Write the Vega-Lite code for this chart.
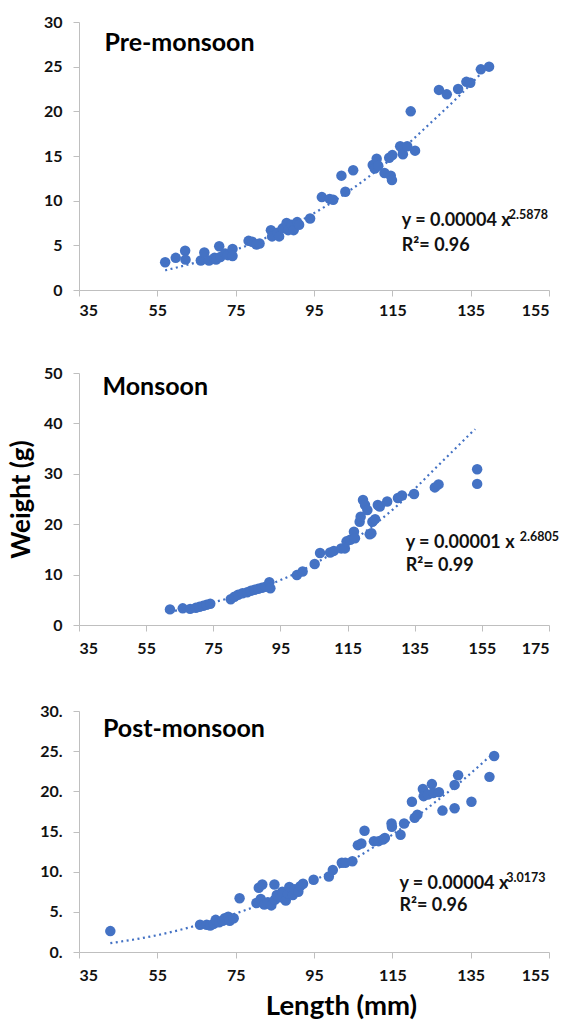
{
  "$schema": "https://vega.github.io/schema/vega-lite/v6.json",
  "padding": {"left": 8, "top": 14, "right": 5, "bottom": 0},
  "spacing": 47,
  "config": {
    "view": {"stroke": null},
    "font": "Lato",
    "axis": {
      "grid": false,
      "domainColor": "#BFBFBF",
      "tickColor": "#BFBFBF",
      "tickSize": 6,
      "labelFont": "Lato",
      "labelFontWeight": "bold",
      "labelFontSize": 16,
      "labelColor": "#111111",
      "labelPadding": 6,
      "titleFont": "Lato",
      "titleFontWeight": "bold",
      "titleFontSize": 26,
      "titleColor": "#000000"
    },
    "axisY": {"labelPadding": 11}
  },
  "datasets": {
    "pre": [
      {"length": 57, "weight": 3.1}, {"length": 59.7, "weight": 3.6}, {"length": 62.1, "weight": 4.4}, {"length": 62.2, "weight": 3.4},
      {"length": 66.1, "weight": 3.3}, {"length": 67, "weight": 4.2}, {"length": 68.2, "weight": 3.3}, {"length": 69.6, "weight": 3.6},
      {"length": 70, "weight": 3.4}, {"length": 70.8, "weight": 4.9}, {"length": 71.1, "weight": 3.7}, {"length": 72.3, "weight": 4.1},
      {"length": 73, "weight": 3.9}, {"length": 74.2, "weight": 4.6}, {"length": 74.2, "weight": 3.8}, {"length": 78.3, "weight": 5.5},
      {"length": 79.2, "weight": 5.4}, {"length": 80.3, "weight": 5.1}, {"length": 81.1, "weight": 5.2}, {"length": 84, "weight": 6.7},
      {"length": 84.3, "weight": 6.0}, {"length": 85.7, "weight": 6.4}, {"length": 86.1, "weight": 6.0}, {"length": 87, "weight": 6.9},
      {"length": 88, "weight": 7.5}, {"length": 88.4, "weight": 6.7}, {"length": 89.3, "weight": 7.3}, {"length": 89.8, "weight": 6.7},
      {"length": 90.7, "weight": 7.6}, {"length": 91.2, "weight": 7.3}, {"length": 94, "weight": 8.0}, {"length": 97, "weight": 10.4},
      {"length": 99, "weight": 10.2}, {"length": 99.9, "weight": 10.1}, {"length": 102, "weight": 12.8}, {"length": 103, "weight": 11.0},
      {"length": 105, "weight": 13.4}, {"length": 110, "weight": 14.0}, {"length": 110.5, "weight": 13.6}, {"length": 111, "weight": 14.7},
      {"length": 111.4, "weight": 13.9}, {"length": 113, "weight": 13.1}, {"length": 114.6, "weight": 12.8}, {"length": 114.9, "weight": 12.3},
      {"length": 114.2, "weight": 14.8}, {"length": 115, "weight": 15.1}, {"length": 117, "weight": 16.1}, {"length": 117.7, "weight": 15.2},
      {"length": 118.8, "weight": 16.1}, {"length": 119.7, "weight": 20.0}, {"length": 120.8, "weight": 15.6}, {"length": 126.9, "weight": 22.4},
      {"length": 128.9, "weight": 21.9}, {"length": 131.8, "weight": 22.5}, {"length": 133.9, "weight": 23.3}, {"length": 134.9, "weight": 23.2},
      {"length": 137.6, "weight": 24.7}, {"length": 139.7, "weight": 25.0}
    ],
    "pre_trend": [
      {"length": 57, "weight": 2.2}, {"length": 65, "weight": 3.1}, {"length": 75, "weight": 4.5}, {"length": 85, "weight": 6.3},
      {"length": 95, "weight": 8.6}, {"length": 105, "weight": 11.4}, {"length": 115, "weight": 14.8}, {"length": 125, "weight": 18.8},
      {"length": 132, "weight": 21.7}, {"length": 138, "weight": 24.4}
    ],
    "mon": [
      {"length": 62.1, "weight": 3.1}, {"length": 65.9, "weight": 3.3}, {"length": 68.1, "weight": 3.2}, {"length": 69.8, "weight": 3.4},
      {"length": 70.9, "weight": 3.6}, {"length": 72, "weight": 3.8}, {"length": 73, "weight": 4.0}, {"length": 74.1, "weight": 4.2},
      {"length": 80.2, "weight": 5.1}, {"length": 81.3, "weight": 5.6}, {"length": 82.4, "weight": 6.0}, {"length": 83.7, "weight": 6.3},
      {"length": 85.1, "weight": 6.5}, {"length": 86.2, "weight": 6.8}, {"length": 87.3, "weight": 7.0}, {"length": 88.4, "weight": 7.2},
      {"length": 89.5, "weight": 7.4}, {"length": 90.6, "weight": 7.6}, {"length": 91.7, "weight": 8.5}, {"length": 92, "weight": 7.3},
      {"length": 99.9, "weight": 9.9}, {"length": 101.6, "weight": 10.6}, {"length": 105.2, "weight": 12.1}, {"length": 106.8, "weight": 14.3},
      {"length": 109.8, "weight": 14.4}, {"length": 110.9, "weight": 14.7}, {"length": 113.1, "weight": 15.2}, {"length": 114.2, "weight": 15.2},
      {"length": 114.7, "weight": 16.6}, {"length": 115.8, "weight": 16.9}, {"length": 116.9, "weight": 18.5}, {"length": 117.2, "weight": 17.2},
      {"length": 118.6, "weight": 20.5}, {"length": 118.9, "weight": 21.5}, {"length": 119.6, "weight": 24.8}, {"length": 120.2, "weight": 23.8},
      {"length": 120.9, "weight": 22.8}, {"length": 121.6, "weight": 18.0}, {"length": 122.1, "weight": 18.2}, {"length": 122.4, "weight": 20.5},
      {"length": 123.2, "weight": 21.0}, {"length": 124, "weight": 23.8}, {"length": 124.6, "weight": 23.5}, {"length": 126.8, "weight": 24.5},
      {"length": 130, "weight": 25.2}, {"length": 131.2, "weight": 25.7}, {"length": 134.8, "weight": 26.0}, {"length": 141, "weight": 27.3},
      {"length": 142.1, "weight": 27.9}, {"length": 153.6, "weight": 30.9}, {"length": 153.6, "weight": 28.0}
    ],
    "mon_trend": [
      {"length": 62, "weight": 2.6}, {"length": 70, "weight": 3.7}, {"length": 80, "weight": 5.4}, {"length": 90, "weight": 7.6},
      {"length": 100, "weight": 10.4}, {"length": 110, "weight": 14.0}, {"length": 120, "weight": 18.4}, {"length": 130, "weight": 23.8},
      {"length": 141, "weight": 31.0}, {"length": 153, "weight": 38.9}
    ],
    "post": [
      {"length": 43, "weight": 2.6}, {"length": 65.9, "weight": 3.4}, {"length": 67.6, "weight": 3.4}, {"length": 68.5, "weight": 3.3},
      {"length": 69.4, "weight": 3.5}, {"length": 69.9, "weight": 4.0}, {"length": 70.8, "weight": 3.7}, {"length": 71.7, "weight": 3.9},
      {"length": 72.2, "weight": 4.2}, {"length": 73.1, "weight": 4.4}, {"length": 73.5, "weight": 3.9}, {"length": 74.5, "weight": 4.2},
      {"length": 76, "weight": 6.7}, {"length": 80.3, "weight": 6.1}, {"length": 80.9, "weight": 8.0}, {"length": 81.8, "weight": 8.4},
      {"length": 81.4, "weight": 6.6}, {"length": 82.3, "weight": 5.9}, {"length": 83.2, "weight": 6.2}, {"length": 84.1, "weight": 5.8},
      {"length": 84.9, "weight": 8.4}, {"length": 85, "weight": 6.5}, {"length": 85.5, "weight": 7.1}, {"length": 86.4, "weight": 6.8},
      {"length": 86.9, "weight": 7.5}, {"length": 87.8, "weight": 6.4}, {"length": 88.3, "weight": 7.3}, {"length": 88.7, "weight": 8.1},
      {"length": 89.6, "weight": 7.1}, {"length": 90.1, "weight": 7.8}, {"length": 91, "weight": 7.5}, {"length": 91.5, "weight": 8.2},
      {"length": 92.2, "weight": 8.5}, {"length": 94.9, "weight": 9.0}, {"length": 98.8, "weight": 9.4}, {"length": 99.8, "weight": 10.2},
      {"length": 102.1, "weight": 11.1}, {"length": 103, "weight": 11.1}, {"length": 104.8, "weight": 11.3}, {"length": 106.2, "weight": 13.3},
      {"length": 107.1, "weight": 13.5}, {"length": 107.9, "weight": 15.1}, {"length": 110.3, "weight": 13.8}, {"length": 111.5, "weight": 13.8},
      {"length": 112.6, "weight": 14.0}, {"length": 113.1, "weight": 14.2}, {"length": 114.8, "weight": 16.0}, {"length": 114.9, "weight": 15.6},
      {"length": 117.1, "weight": 14.6}, {"length": 118, "weight": 16.0}, {"length": 120, "weight": 18.7}, {"length": 120.7, "weight": 16.7},
      {"length": 121.4, "weight": 17.1}, {"length": 122.8, "weight": 20.3}, {"length": 123, "weight": 19.4}, {"length": 124.1, "weight": 19.6},
      {"length": 125.1, "weight": 20.9}, {"length": 125.5, "weight": 19.8}, {"length": 126.9, "weight": 19.9}, {"length": 127.8, "weight": 17.6},
      {"length": 130.9, "weight": 20.8}, {"length": 130.9, "weight": 17.9}, {"length": 131.8, "weight": 22.0}, {"length": 135.2, "weight": 18.7},
      {"length": 139.8, "weight": 21.8}, {"length": 141, "weight": 24.4}
    ],
    "post_trend": [
      {"length": 43, "weight": 1.1}, {"length": 55, "weight": 2.1}, {"length": 65, "weight": 3.3}, {"length": 75, "weight": 4.8},
      {"length": 85, "weight": 6.6}, {"length": 95, "weight": 8.9}, {"length": 105, "weight": 11.5}, {"length": 115, "weight": 14.6},
      {"length": 125, "weight": 18.3}, {"length": 133, "weight": 21.4}, {"length": 140, "weight": 24.4}
    ]
  },
  "vconcat": [
    {
      "width": 470,
      "height": 268,
      "layer": [
        {
          "data": {"name": "pre_trend"},
          "mark": {"type": "line", "color": "#4472C4", "strokeWidth": 2.2, "strokeDash": [2, 3.5], "interpolate": "monotone"},
          "encoding": {
            "x": {"field": "length", "type": "quantitative", "scale": {"domain": [35, 155], "nice": false, "zero": false},
                  "axis": {"values": [35, 55, 75, 95, 115, 135, 155], "title": null}},
            "y": {"field": "weight", "type": "quantitative", "scale": {"domain": [0, 30], "nice": false},
                  "axis": {"values": [0, 5, 10, 15, 20, 25, 30], "title": null}}
          }
        },
        {
          "data": {"name": "pre"},
          "mark": {"type": "circle", "color": "#4472C4", "size": 110, "opacity": 1},
          "encoding": {
            "x": {"field": "length", "type": "quantitative"},
            "y": {"field": "weight", "type": "quantitative"}
          }
        },
        {
          "data": {"values": [{"label": "Pre-monsoon"}]},
          "mark": {"type": "text", "align": "left", "baseline": "middle", "fontSize": 25, "fontWeight": "bold", "font": "Lato", "color": "#000000"},
          "encoding": {"x": {"datum": 41.5}, "y": {"datum": 27.7}, "text": {"field": "label"}}
        },
        {
          "data": {"values": [{"label": "y = 0.00004 x"}]},
          "mark": {"type": "text", "align": "left", "baseline": "middle", "fontSize": 18, "fontWeight": "bold", "font": "Lato", "color": "#111111"},
          "encoding": {"x": {"datum": 117.4}, "y": {"datum": 7.7}, "text": {"field": "label"}}
        },
        {
          "data": {"values": [{"label": "2.5878"}]},
          "mark": {"type": "text", "align": "left", "baseline": "middle", "fontSize": 12.5, "fontWeight": "bold", "font": "Lato", "color": "#111111"},
          "encoding": {"x": {"datum": 144.7}, "y": {"datum": 8.4}, "text": {"field": "label"}}
        },
        {
          "data": {"values": [{"label": "R²= 0.96"}]},
          "mark": {"type": "text", "align": "left", "baseline": "middle", "fontSize": 18, "fontWeight": "bold", "font": "Lato", "color": "#111111"},
          "encoding": {"x": {"datum": 117.4}, "y": {"datum": 4.9}, "text": {"field": "label"}}
        }
      ]
    },
    {
      "width": 470,
      "height": 252,
      "layer": [
        {
          "data": {"name": "mon_trend"},
          "mark": {"type": "line", "color": "#4472C4", "strokeWidth": 2.2, "strokeDash": [2, 3.5], "interpolate": "monotone"},
          "encoding": {
            "x": {"field": "length", "type": "quantitative", "scale": {"domain": [35, 175], "nice": false, "zero": false},
                  "axis": {"values": [35, 55, 75, 95, 115, 135, 155, 175], "title": null, "labelPadding": 9}},
            "y": {"field": "weight", "type": "quantitative", "scale": {"domain": [0, 50], "nice": false},
                  "axis": {"values": [0, 10, 20, 30, 40, 50], "title": "Weight (g)", "titlePadding": 9}}
          }
        },
        {
          "data": {"name": "mon"},
          "mark": {"type": "circle", "color": "#4472C4", "size": 110, "opacity": 1},
          "encoding": {
            "x": {"field": "length", "type": "quantitative"},
            "y": {"field": "weight", "type": "quantitative"}
          }
        },
        {
          "data": {"values": [{"label": "Monsoon"}]},
          "mark": {"type": "text", "align": "left", "baseline": "middle", "fontSize": 25, "fontWeight": "bold", "font": "Lato", "color": "#000000"},
          "encoding": {"x": {"datum": 42}, "y": {"datum": 47.2}, "text": {"field": "label"}}
        },
        {
          "data": {"values": [{"label": "y = 0.00001 x"}]},
          "mark": {"type": "text", "align": "left", "baseline": "middle", "fontSize": 18, "fontWeight": "bold", "font": "Lato", "color": "#111111"},
          "encoding": {"x": {"datum": 132.3}, "y": {"datum": 16.2}, "text": {"field": "label"}}
        },
        {
          "data": {"values": [{"label": "2.6805"}]},
          "mark": {"type": "text", "align": "left", "baseline": "middle", "fontSize": 12.5, "fontWeight": "bold", "font": "Lato", "color": "#111111"},
          "encoding": {"x": {"datum": 166.3}, "y": {"datum": 17.4}, "text": {"field": "label"}}
        },
        {
          "data": {"values": [{"label": "R²= 0.99"}]},
          "mark": {"type": "text", "align": "left", "baseline": "middle", "fontSize": 18, "fontWeight": "bold", "font": "Lato", "color": "#111111"},
          "encoding": {"x": {"datum": 132.3}, "y": {"datum": 11.8}, "text": {"field": "label"}}
        }
      ]
    },
    {
      "width": 470,
      "height": 241,
      "layer": [
        {
          "data": {"name": "post_trend"},
          "mark": {"type": "line", "color": "#4472C4", "strokeWidth": 2.2, "strokeDash": [2, 3.5], "interpolate": "monotone"},
          "encoding": {
            "x": {"field": "length", "type": "quantitative", "scale": {"domain": [35, 155], "nice": false, "zero": false},
                  "axis": {"values": [35, 55, 75, 95, 115, 135, 155], "title": "Length (mm)", "titlePadding": 9, "labelPadding": 9,
                           "titleFontSize": 27.5, "titleX": 262, "titleAlign": "center"}},
            "y": {"field": "weight", "type": "quantitative", "scale": {"domain": [0, 30], "nice": false},
                  "axis": {"values": [0, 5, 10, 15, 20, 25, 30], "title": null, "labelExpr": "datum.value + '.'"}}
          }
        },
        {
          "data": {"name": "post"},
          "mark": {"type": "circle", "color": "#4472C4", "size": 110, "opacity": 1},
          "encoding": {
            "x": {"field": "length", "type": "quantitative"},
            "y": {"field": "weight", "type": "quantitative"}
          }
        },
        {
          "data": {"values": [{"label": "Post-monsoon"}]},
          "mark": {"type": "text", "align": "left", "baseline": "middle", "fontSize": 25, "fontWeight": "bold", "font": "Lato", "color": "#000000"},
          "encoding": {"x": {"datum": 41.1}, "y": {"datum": 27.8}, "text": {"field": "label"}}
        },
        {
          "data": {"values": [{"label": "y = 0.00004 x"}]},
          "mark": {"type": "text", "align": "left", "baseline": "middle", "fontSize": 18, "fontWeight": "bold", "font": "Lato", "color": "#111111"},
          "encoding": {"x": {"datum": 116.8}, "y": {"datum": 8.5}, "text": {"field": "label"}}
        },
        {
          "data": {"values": [{"label": "3.0173"}]},
          "mark": {"type": "text", "align": "left", "baseline": "middle", "fontSize": 12.5, "fontWeight": "bold", "font": "Lato", "color": "#111111"},
          "encoding": {"x": {"datum": 144.1}, "y": {"datum": 9.2}, "text": {"field": "label"}}
        },
        {
          "data": {"values": [{"label": "R²= 0.96"}]},
          "mark": {"type": "text", "align": "left", "baseline": "middle", "fontSize": 18, "fontWeight": "bold", "font": "Lato", "color": "#111111"},
          "encoding": {"x": {"datum": 116.8}, "y": {"datum": 5.7}, "text": {"field": "label"}}
        }
      ]
    }
  ]
}
